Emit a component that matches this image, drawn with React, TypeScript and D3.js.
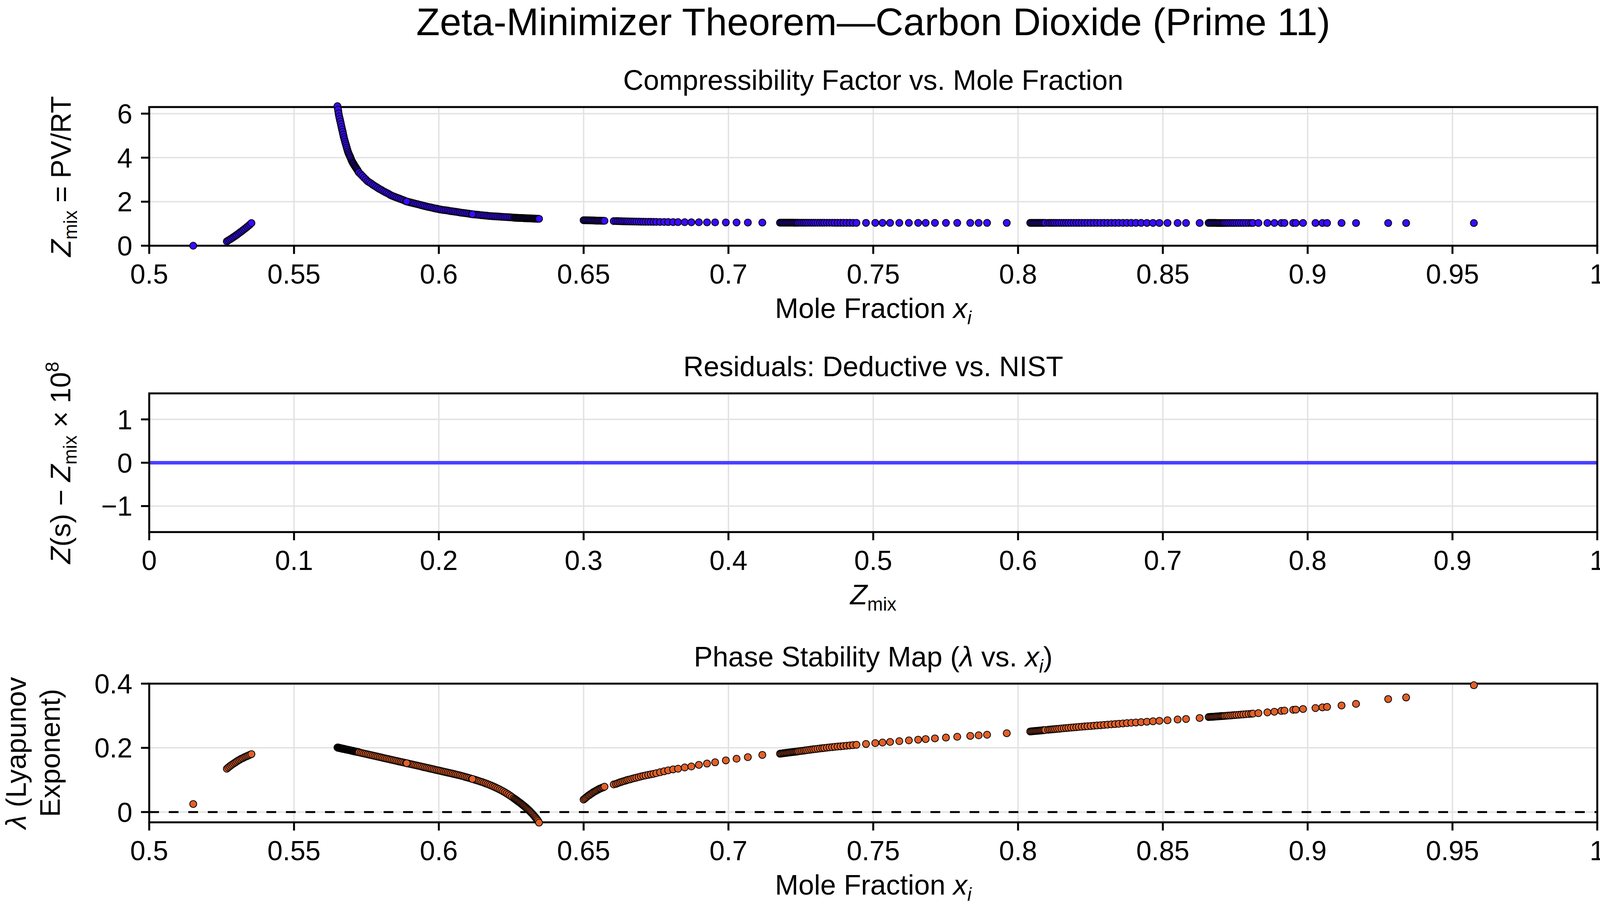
import * as d3 from 'd3'

// ---------- data ----------

// isolated point
const isolatedX = [0.5152]
const isolatedZ = [0.0]
const isolatedLambda = [0.025]

// short branch near x = 0.53
const branchAX = [0.5268, 0.5273, 0.5278, 0.5283, 0.5288, 0.5293, 0.5298, 0.5303, 0.5308, 0.5313, 0.5318, 0.5323, 0.5328, 0.5333, 0.5338, 0.5343, 0.5348, 0.5353]
const branchAZ = [0.20, 0.24, 0.28, 0.32, 0.365, 0.41, 0.455, 0.50, 0.55, 0.60, 0.645, 0.70, 0.75, 0.80, 0.855, 0.91, 0.965, 1.03]
const branchALambda = [0.135, 0.139, 0.1425, 0.146, 0.149, 0.152, 0.155, 0.158, 0.161, 0.1635, 0.166, 0.168, 0.1705, 0.1725, 0.1745, 0.1765, 0.1785, 0.1805]

// in-between points of the steep head
const branchBTopX = [0.5651, 0.5653, 0.5655, 0.5657, 0.5659, 0.5661, 0.5663, 0.5665, 0.5667, 0.5669, 0.5671]
const branchBTopZ = [6.26, 6.095, 5.94, 5.81, 5.70, 5.58, 5.46, 5.34, 5.225, 5.11, 4.99]
const branchBTopLambda = [0.201, 0.200, 0.200, 0.200, 0.199, 0.199, 0.198, 0.198, 0.197, 0.197, 0.197]

// steep head of the main branch
const branchBHeadX = [0.5650, 0.5652, 0.5654, 0.5656, 0.5658, 0.5660, 0.5662, 0.5664, 0.5666, 0.5668, 0.5670, 0.5672, 0.5674, 0.5676, 0.5678, 0.5680, 0.5682, 0.5684, 0.5686, 0.5688, 0.5690, 0.5692, 0.5694, 0.5696, 0.5698, 0.5700, 0.5702, 0.5704, 0.5706, 0.5708, 0.5710, 0.5712, 0.5714, 0.5716, 0.5718, 0.5720, 0.5722, 0.5724]
const branchBHeadZ = [6.34, 6.18, 6.01, 5.87, 5.755, 5.64, 5.52, 5.40, 5.28, 5.17, 5.05, 4.93, 4.83, 4.73, 4.64, 4.55, 4.46, 4.37, 4.28, 4.21, 4.15, 4.09, 4.03, 3.97, 3.90, 3.84, 3.79, 3.75, 3.71, 3.66, 3.62, 3.58, 3.54, 3.50, 3.46, 3.42, 3.37, 3.33]
const branchBHeadLambda = [0.201, 0.201, 0.200, 0.200, 0.199, 0.199, 0.199, 0.198, 0.198, 0.197, 0.197, 0.197, 0.196, 0.196, 0.195, 0.195, 0.195, 0.194, 0.194, 0.193, 0.193, 0.193, 0.192, 0.192, 0.191, 0.191, 0.191, 0.190, 0.190, 0.189, 0.189, 0.189, 0.188, 0.188, 0.187, 0.187, 0.187, 0.186]

// body of the main branch
const branchBBodyX = [
  0.5730, 0.5736, 0.5742, 0.5748, 0.5754, 0.5760, 0.5766, 0.5772, 0.5778, 0.5784,
  0.5790, 0.5796, 0.5802, 0.5808, 0.5814, 0.5820, 0.5826, 0.5832, 0.5838, 0.5844,
  0.5850, 0.5856, 0.5862, 0.5868, 0.5874, 0.5880, 0.5886, 0.5892, 0.5898, 0.5904,
  0.5910, 0.5916, 0.5922, 0.5928, 0.5934, 0.5940, 0.5946, 0.5952, 0.5958, 0.5964,
  0.5970, 0.5976, 0.5982, 0.5988, 0.5994, 0.6000, 0.6006, 0.6012, 0.6018, 0.6024,
  0.6030, 0.6036, 0.6042, 0.6048, 0.6054, 0.6060, 0.6066, 0.6072, 0.6078, 0.6084,
  0.6090, 0.6096, 0.6102, 0.6108, 0.6114, 0.6120, 0.6126, 0.6132, 0.6138, 0.6144,
  0.6150, 0.6156, 0.6162, 0.6168, 0.6174, 0.6180, 0.6186, 0.6192, 0.6198, 0.6204,
  0.6210, 0.6216, 0.6222, 0.6228, 0.6234, 0.6240, 0.6246, 0.6252, 0.6258]
const branchBBodyZ = [
  3.25, 3.17, 3.09, 3.01, 2.93, 2.88, 2.83, 2.77, 2.72, 2.67,
  2.62, 2.57, 2.53, 2.48, 2.44, 2.40, 2.36, 2.31, 2.27, 2.24,
  2.21, 2.18, 2.15, 2.12, 2.09, 2.06, 2.02, 2.00, 1.98, 1.96,
  1.94, 1.92, 1.90, 1.88, 1.86, 1.84, 1.82, 1.80, 1.78, 1.76,
  1.75, 1.73, 1.71, 1.69, 1.68, 1.66, 1.645, 1.63, 1.62, 1.61,
  1.60, 1.585, 1.57, 1.56, 1.55, 1.54, 1.525, 1.515, 1.50, 1.49,
  1.48, 1.47, 1.46, 1.445, 1.435, 1.425, 1.415, 1.41, 1.40, 1.39,
  1.385, 1.375, 1.37, 1.36, 1.35, 1.345, 1.34, 1.335, 1.33, 1.325,
  1.32, 1.315, 1.31, 1.305, 1.30, 1.295, 1.29, 1.285, 1.275]
const branchBBodyLambda = [
  0.1846, 0.1834, 0.1821, 0.1809, 0.1797, 0.1785, 0.1772, 0.1760, 0.1748, 0.1736,
  0.1723, 0.1711, 0.1699, 0.1686, 0.1674, 0.1662, 0.1650, 0.1637, 0.1625, 0.1613,
  0.1601, 0.1588, 0.1576, 0.1564, 0.1552, 0.1539, 0.1527, 0.1515, 0.1502, 0.1490,
  0.1478, 0.1466, 0.1453, 0.1441, 0.1429, 0.1417, 0.1404, 0.1392, 0.1380, 0.1367,
  0.1355, 0.1343, 0.1331, 0.1318, 0.1306, 0.1294, 0.1282, 0.1269, 0.1257, 0.1245,
  0.1232, 0.1220, 0.1208, 0.1195, 0.1182, 0.1169, 0.1156, 0.1142, 0.1128, 0.1114,
  0.1099, 0.1084, 0.1068, 0.1052, 0.1035, 0.1018, 0.1002, 0.0985, 0.0968, 0.0950,
  0.0932, 0.0913, 0.0893, 0.0872, 0.0851, 0.0829, 0.0806, 0.0782, 0.0757, 0.0731,
  0.0704, 0.0676, 0.0646, 0.0615, 0.0582, 0.0548, 0.0512, 0.0474, 0.0434]

// tail of the main branch (lambda crosses zero)
const branchBTailX = [0.6262, 0.6265, 0.6268, 0.6271, 0.6274, 0.6277, 0.6280, 0.6283, 0.6286, 0.6289, 0.6292, 0.6295, 0.6298, 0.6301, 0.6304, 0.6307, 0.6310, 0.6313, 0.6316, 0.6319, 0.6322, 0.6325, 0.6328, 0.6331, 0.6334, 0.6337, 0.6340, 0.6343, 0.6346]
const branchBTailZ = [1.272, 1.270, 1.268, 1.267, 1.265, 1.263, 1.261, 1.260, 1.258, 1.256, 1.254, 1.253, 1.251, 1.249, 1.247, 1.246, 1.244, 1.242, 1.240, 1.239, 1.237, 1.235, 1.233, 1.232, 1.230, 1.228, 1.226, 1.224, 1.222]
const branchBTailLambda = [0.0410, 0.0390, 0.0370, 0.0350, 0.0330, 0.0310, 0.0290, 0.0269, 0.0248, 0.0227, 0.0205, 0.0183, 0.0160, 0.0137, 0.0113, 0.0089, 0.0064, 0.0038, 0.0011, -0.0017, -0.0046, -0.0076, -0.0107, -0.0139, -0.0172, -0.0206, -0.0242, -0.0280, -0.0330]

// points of the main branch that sit on top of the band
const branchBLooseX = [0.5889, 0.6116]
const branchBLooseZ = [2.01, 1.43]
const branchBLooseLambda = [0.1522, 0.1030]

// branch starting at x = 0.65
const branchCX = [
  0.6500, 0.6504, 0.6508, 0.6512, 0.6516, 0.6520, 0.6524, 0.6528, 0.6532, 0.6536, 0.6540, 0.6544, 0.6548, 0.6552, 0.6556, 0.6560, 0.6564, 0.6568, 0.6572,
  0.6604,
  0.6612, 0.6618, 0.6624, 0.6630, 0.6636, 0.6642, 0.6648, 0.6654, 0.6661, 0.6668, 0.6675, 0.6682, 0.6690, 0.6698, 0.6706, 0.6714, 0.6723, 0.6732, 0.6741,
  0.6751, 0.6764, 0.6778, 0.6792, 0.6809, 0.6826, 0.6849, 0.6872, 0.6898, 0.6926, 0.6954, 0.6991, 0.7028, 0.7067, 0.7117]
const branchCZ = [
  1.160, 1.158, 1.157, 1.155, 1.154, 1.152, 1.150, 1.149, 1.147, 1.146, 1.144, 1.142, 1.141, 1.139, 1.138, 1.136, 1.134, 1.133, 1.131,
  1.120,
  1.118, 1.116, 1.114, 1.112, 1.110, 1.108, 1.106, 1.104, 1.102, 1.100, 1.098, 1.096, 1.094, 1.092, 1.090, 1.088, 1.087, 1.085, 1.084,
  1.082, 1.080, 1.078, 1.076, 1.074, 1.072, 1.069, 1.067, 1.064, 1.062, 1.060, 1.057, 1.055, 1.053, 1.050]
const branchCLambda = [
  0.039, 0.042, 0.045, 0.048, 0.051, 0.053, 0.056, 0.058, 0.061, 0.063, 0.065, 0.067, 0.069, 0.071, 0.073, 0.074, 0.076, 0.077, 0.079,
  0.086,
  0.088, 0.090, 0.092, 0.094, 0.0955, 0.097, 0.099, 0.1005, 0.102, 0.104, 0.1055, 0.107, 0.109, 0.111, 0.1125, 0.114, 0.116, 0.1175, 0.119,
  0.121, 0.124, 0.127, 0.130, 0.133, 0.135, 0.139, 0.142, 0.147, 0.151, 0.155, 0.161, 0.166, 0.171, 0.178]

// branch starting at x = 0.718
const branchDX = [
  0.7178, 0.7182, 0.7186, 0.7190, 0.7194, 0.7198, 0.7202, 0.7206, 0.7210, 0.7214, 0.7218, 0.7222, 0.7226, 0.7230, 0.7234, 0.7238, 0.7242,
  0.7248,
  0.7254, 0.7260, 0.7266, 0.7272, 0.7279, 0.7286, 0.7293, 0.7300, 0.7308, 0.7316, 0.7324, 0.7331, 0.7340, 0.7349, 0.7358, 0.7367, 0.7377, 0.7387, 0.7397, 0.7408, 0.7419, 0.7430, 0.7442,
  0.7475, 0.7507, 0.7532, 0.7558, 0.7590, 0.7623, 0.7655, 0.7681, 0.7713, 0.7751, 0.7790, 0.7835, 0.7864, 0.7893, 0.7961]
const branchDZ = [
  1.046, 1.046, 1.046, 1.046, 1.046, 1.045, 1.045, 1.045, 1.045, 1.045, 1.045, 1.045, 1.044, 1.044, 1.044, 1.044, 1.044,
  1.044,
  1.044, 1.044, 1.044, 1.043, 1.043, 1.043, 1.043, 1.043, 1.043, 1.042, 1.042, 1.042, 1.042, 1.042, 1.042, 1.041, 1.041, 1.041, 1.041, 1.041, 1.041, 1.040, 1.040,
  1.040, 1.040, 1.039, 1.039, 1.039, 1.039, 1.038, 1.038, 1.038, 1.038, 1.037, 1.037, 1.037, 1.036, 1.036]
const branchDLambda = [
  0.1818, 0.1823, 0.1828, 0.1833, 0.1838, 0.1842, 0.1847, 0.1852, 0.1856, 0.1861, 0.1865, 0.1870, 0.1874, 0.1878, 0.1883, 0.1887, 0.1892,
  0.1900,
  0.1907, 0.1914, 0.1921, 0.1928, 0.1937, 0.1946, 0.1955, 0.1963, 0.1971, 0.1980, 0.1988, 0.1996, 0.2005, 0.2014, 0.2022, 0.2031, 0.2040, 0.2048, 0.2057, 0.2066, 0.2075, 0.2085, 0.2095,
  0.2121, 0.2147, 0.2165, 0.2184, 0.2208, 0.2232, 0.2255, 0.2273, 0.2294, 0.2320, 0.2345, 0.2373, 0.2391, 0.2409, 0.2455]

// branch starting at x = 0.804
const branchEX = [
  0.8042, 0.8046, 0.8050, 0.8054, 0.8058, 0.8062, 0.8066, 0.8070, 0.8074, 0.8078, 0.8082, 0.8086, 0.8090, 0.8094,
  0.8104, 0.8110, 0.8116, 0.8122, 0.8128, 0.8135, 0.8142, 0.8150, 0.8158, 0.8166, 0.8174, 0.8183, 0.8192, 0.8201, 0.8210, 0.8220, 0.8230, 0.8240, 0.8251, 0.8262, 0.8273, 0.8285, 0.8297, 0.8309, 0.8322, 0.8335, 0.8348, 0.8362, 0.8376, 0.8391, 0.8407,
  0.8425, 0.8445, 0.8466, 0.8488, 0.8516, 0.8551, 0.8580, 0.8627]
const branchEZ = [
  1.040, 1.040, 1.040, 1.040, 1.040, 1.040, 1.040, 1.040, 1.040, 1.040, 1.040, 1.040, 1.040, 1.040,
  1.040, 1.040, 1.040, 1.040, 1.039, 1.039, 1.039, 1.039, 1.039, 1.039, 1.039, 1.038, 1.038, 1.038, 1.038, 1.038, 1.038, 1.038, 1.037, 1.037, 1.037, 1.037, 1.037, 1.037, 1.037, 1.036, 1.036, 1.036, 1.036, 1.036, 1.036,
  1.036, 1.035, 1.035, 1.035, 1.035, 1.034, 1.034, 1.034]
const branchELambda = [
  0.2510, 0.2513, 0.2517, 0.2520, 0.2524, 0.2527, 0.2531, 0.2534, 0.2538, 0.2541, 0.2545, 0.2548, 0.2552, 0.2555,
  0.2564, 0.2569, 0.2574, 0.2579, 0.2584, 0.2590, 0.2596, 0.2603, 0.2610, 0.2617, 0.2623, 0.2630, 0.2637, 0.2644, 0.2651, 0.2658, 0.2666, 0.2673, 0.2681, 0.2689, 0.2697, 0.2705, 0.2713, 0.2722, 0.2732, 0.2741, 0.2750, 0.2760, 0.2770, 0.2780, 0.2790,
  0.2802, 0.2815, 0.2828, 0.2842, 0.2860, 0.2882, 0.2900, 0.2930]

// branch starting at x = 0.866
const branchFX = [
  0.8658, 0.8662, 0.8666, 0.8670, 0.8674, 0.8678, 0.8682, 0.8686, 0.8690, 0.8694, 0.8698, 0.8702, 0.8706, 0.8710, 0.8714,
  0.8720, 0.8726, 0.8733, 0.8740, 0.8747, 0.8754, 0.8762, 0.8770, 0.8778, 0.8787, 0.8796, 0.8805, 0.8811,
  0.8830, 0.8861, 0.8885, 0.8909, 0.8920, 0.8950, 0.8959, 0.8984, 0.9027, 0.9051, 0.9067, 0.9117, 0.9167, 0.9278, 0.9340, 0.9574]
const branchFZ = [
  1.036, 1.036, 1.036, 1.036, 1.036, 1.036, 1.036, 1.035, 1.035, 1.035, 1.035, 1.035, 1.035, 1.035, 1.035,
  1.035, 1.035, 1.035, 1.035, 1.034, 1.034, 1.034, 1.034, 1.034, 1.034, 1.034, 1.034, 1.034,
  1.034, 1.033, 1.033, 1.033, 1.033, 1.033, 1.033, 1.033, 1.032, 1.032, 1.032, 1.032, 1.031, 1.031, 1.031, 1.030]
const branchFLambda = [
  0.2960, 0.2963, 0.2965, 0.2968, 0.2970, 0.2973, 0.2976, 0.2978, 0.2981, 0.2983, 0.2986, 0.2989, 0.2991, 0.2994, 0.2996,
  0.3000, 0.3004, 0.3009, 0.3014, 0.3019, 0.3024, 0.3030, 0.3035, 0.3041, 0.3048, 0.3054, 0.3061, 0.3066,
  0.3080, 0.3105, 0.3125, 0.3150, 0.3160, 0.3185, 0.3192, 0.3210, 0.3240, 0.3262, 0.3275, 0.3320, 0.3370, 0.3520, 0.3570, 0.3950]

// residual panel (scaled by 1e8)
const residualZmix = [0, 0.25, 0.5, 0.75, 1]
const residualScaled = [0, 0, 0, 0, 0]

// ticks
const moleTicks = [0.5, 0.55, 0.6, 0.65, 0.7, 0.75, 0.8, 0.85, 0.9, 0.95, 1]
const moleTickLabels = ['0.5', '0.55', '0.6', '0.65', '0.7', '0.75', '0.8', '0.85', '0.9', '0.95', '1']
const zmixTicks = [0, 0.1, 0.2, 0.3, 0.4, 0.5, 0.6, 0.7, 0.8, 0.9, 1]
const zmixTickLabels = ['0', '0.1', '0.2', '0.3', '0.4', '0.5', '0.6', '0.7', '0.8', '0.9', '1']
const zTicks = [0, 2, 4, 6]
const zTickLabels = ['0', '2', '4', '6']
const residualTicks = [-1, 0, 1]
const residualTickLabels = ['\u22121', '0', '1']
const lambdaTicks = [0, 0.2, 0.4]
const lambdaTickLabels = ['0', '0.2', '0.4']

// ---------- layout ----------
const FIG_W = 4132
const FIG_H = 2332
const PLOT_LEFT = 382
const PLOT_RIGHT = 4089
const PANEL_H = 355
const PANEL_TOPS = [274, 1007, 1750]
const CENTER_X = (PLOT_LEFT + PLOT_RIGHT) / 2
const FONT = '"Liberation Sans", Arial, Helvetica, sans-serif'
const GRID = '#e2e2e2'
const BLUE = '#3a0aff'
const ORANGE = '#e2602a'
const TICK_FS = 70
const LABEL_FS = 72
const SUB_FS = 48

const branches = [
  { x: isolatedX, z: isolatedZ, l: isolatedLambda },
  { x: branchAX, z: branchAZ, l: branchALambda },
  { x: branchBTopX, z: branchBTopZ, l: branchBTopLambda },
  { x: branchBHeadX, z: branchBHeadZ, l: branchBHeadLambda },
  { x: branchBBodyX, z: branchBBodyZ, l: branchBBodyLambda },
  { x: branchBTailX, z: branchBTailZ, l: branchBTailLambda },
  { x: branchBLooseX, z: branchBLooseZ, l: branchBLooseLambda },
  { x: branchCX, z: branchCZ, l: branchCLambda },
  { x: branchDX, z: branchDZ, l: branchDLambda },
  { x: branchEX, z: branchEZ, l: branchELambda },
  { x: branchFX, z: branchFZ, l: branchFLambda },
]

const points = branches.flatMap(b => b.x.map((x, i) => ({ x, z: b.z[i], l: b.l[i] })))

interface PanelProps {
  top: number
  xScale: d3.ScaleLinear<number, number>
  yScale: d3.ScaleLinear<number, number>
  xTicks: number[]
  xLabels: string[]
  yTicks: number[]
  yLabels: string[]
  children?: any
}

/* one axis box: grid, frame, ticks, tick labels, then the marks */
const Panel = ({ top, xScale, yScale, xTicks, xLabels, yTicks, yLabels, children }: PanelProps) => {
  const bottom = top + PANEL_H
  return (
    <g>
      {xTicks.map(t => (
        <line key={'gx' + t} x1={xScale(t)} x2={xScale(t)} y1={top} y2={bottom} stroke={GRID} strokeWidth={3.5} />
      ))}
      {yTicks.map(t => (
        <line key={'gy' + t} x1={PLOT_LEFT} x2={PLOT_RIGHT} y1={yScale(t)} y2={yScale(t)} stroke={GRID} strokeWidth={3.5} />
      ))}
      {xTicks.map((t, i) => (
        <g key={'tx' + t}>
          <line x1={xScale(t)} x2={xScale(t)} y1={bottom} y2={bottom + 21} stroke="black" strokeWidth={5} />
          <text x={xScale(t)} y={bottom + 97} textAnchor="middle" fontSize={TICK_FS}>{xLabels[i]}</text>
        </g>
      ))}
      {yTicks.map((t, i) => (
        <g key={'ty' + t}>
          <line x1={PLOT_LEFT - 21} x2={PLOT_LEFT} y1={yScale(t)} y2={yScale(t)} stroke="black" strokeWidth={5} />
          <text x={339} y={yScale(t) + 25} textAnchor="end" fontSize={TICK_FS}>{yLabels[i]}</text>
        </g>
      ))}
      {children}
    </g>
  )
}

const Frame = ({ top }: { top: number }) => (
  <rect x={PLOT_LEFT} y={top} width={PLOT_RIGHT - PLOT_LEFT} height={PANEL_H} fill="none" stroke="black" strokeWidth={5} />
)

export default function App() {
  const [top1, top2, top3] = PANEL_TOPS

  const xMole = d3.scaleLinear().domain([0.5, 1]).range([PLOT_LEFT, PLOT_RIGHT])
  const xZmix = d3.scaleLinear().domain([0, 1]).range([PLOT_LEFT, PLOT_RIGHT])
  const yZ = d3.scaleLinear().domain([0, 6.3]).range([top1 + PANEL_H, top1])
  const yRes = d3.scaleLinear().domain([-1.6, 1.6]).range([top2 + PANEL_H, top2])
  const yLam = d3.scaleLinear().domain([-0.032, 0.4]).range([top3 + PANEL_H, top3])

  const residualPath = d3.line<number>()
    .x((_, i) => xZmix(residualZmix[i]))
    .y(d => yRes(d))(residualScaled) as string

  const mid = (t: number) => t + PANEL_H / 2

  return (
    <div style={{ position: 'absolute', left: 0, top: 0, background: 'white' }}>
      <svg width={FIG_W} height={FIG_H} fontFamily={FONT} style={{ display: 'block' }}>
        <rect width={FIG_W} height={FIG_H} fill="white" />

        <text x={CENTER_X} y={90} textAnchor="middle" fontSize={99}>
          Zeta-Minimizer Theorem—Carbon Dioxide (Prime 11)
        </text>

        {/* panel 1: compressibility factor */}
        <text x={CENTER_X} y={top1 - 44} textAnchor="middle" fontSize={LABEL_FS}>
          Compressibility Factor vs. Mole Fraction
        </text>
        <Panel top={top1} xScale={xMole} yScale={yZ} xTicks={moleTicks} xLabels={moleTickLabels} yTicks={zTicks} yLabels={zTickLabels}>
          <Frame top={top1} />
          {points.map((p, i) => (
            <circle key={i} cx={xMole(p.x)} cy={yZ(p.z)} r={9} fill={BLUE} stroke="black" strokeWidth={2} />
          ))}
        </Panel>
        <text x={CENTER_X} y={top1 + PANEL_H + 185} textAnchor="middle" fontSize={LABEL_FS}>
          Mole Fraction <tspan fontStyle="italic">x</tspan>
          <tspan fontStyle="italic" fontSize={SUB_FS} dy={16}>i</tspan>
        </text>
        <text transform={`translate(181, ${mid(top1)}) rotate(-90)`} textAnchor="middle" fontSize={LABEL_FS}>
          <tspan fontStyle="italic">Z</tspan>
          <tspan fontSize={SUB_FS} dy={16}>mix</tspan>
          <tspan dy={-16}> = PV/RT</tspan>
        </text>

        {/* panel 2: residuals */}
        <text x={CENTER_X} y={top2 - 44} textAnchor="middle" fontSize={LABEL_FS}>
          Residuals: Deductive vs. NIST
        </text>
        <Panel top={top2} xScale={xZmix} yScale={yRes} xTicks={zmixTicks} xLabels={zmixTickLabels} yTicks={residualTicks} yLabels={residualTickLabels}>
          <path d={residualPath} fill="none" stroke="#4b40ff" strokeWidth={9} />
          <Frame top={top2} />
        </Panel>
        <text x={CENTER_X} y={top2 + PANEL_H + 185} textAnchor="middle" fontSize={LABEL_FS}>
          <tspan fontStyle="italic">Z</tspan>
          <tspan fontSize={SUB_FS} dy={16}>mix</tspan>
        </text>
        <text transform={`translate(180, ${mid(top2)}) rotate(-90)`} textAnchor="middle" fontSize={LABEL_FS}>
          <tspan fontStyle="italic">Z</tspan>
          <tspan>(s) − </tspan>
          <tspan fontStyle="italic">Z</tspan>
          <tspan fontSize={SUB_FS} dy={16}>mix</tspan>
          <tspan dy={-16}> × 10</tspan>
          <tspan fontSize={SUB_FS} dy={-30}>8</tspan>
        </text>

        {/* panel 3: phase stability */}
        <text x={CENTER_X} y={top3 - 44} textAnchor="middle" fontSize={LABEL_FS}>
          Phase Stability Map (<tspan fontStyle="italic">λ</tspan> vs. <tspan fontStyle="italic">x</tspan>
          <tspan fontStyle="italic" fontSize={SUB_FS} dy={16}>i</tspan>
          <tspan dy={-16}>)</tspan>
        </text>
        <Panel top={top3} xScale={xMole} yScale={yLam} xTicks={moleTicks} xLabels={moleTickLabels} yTicks={lambdaTicks} yLabels={lambdaTickLabels}>
          <Frame top={top3} />
          <line x1={PLOT_LEFT} x2={PLOT_RIGHT} y1={yLam(0)} y2={yLam(0)} stroke="black" strokeWidth={5} strokeDasharray="25 25" />
          {points.map((p, i) => (
            <circle key={i} cx={xMole(p.x)} cy={yLam(p.l)} r={9} fill={ORANGE} stroke="black" strokeWidth={2} />
          ))}
        </Panel>
        <text x={CENTER_X} y={top3 + PANEL_H + 185} textAnchor="middle" fontSize={LABEL_FS}>
          Mole Fraction <tspan fontStyle="italic">x</tspan>
          <tspan fontStyle="italic" fontSize={SUB_FS} dy={16}>i</tspan>
        </text>
        <text transform={`translate(66, ${mid(top3)}) rotate(-90)`} textAnchor="middle" fontSize={LABEL_FS}>
          <tspan x={0} fontStyle="italic">λ</tspan><tspan> (Lyapunov</tspan>
          <tspan x={0} dy={87}>Exponent)</tspan>
        </text>
      </svg>
    </div>
  )
}
